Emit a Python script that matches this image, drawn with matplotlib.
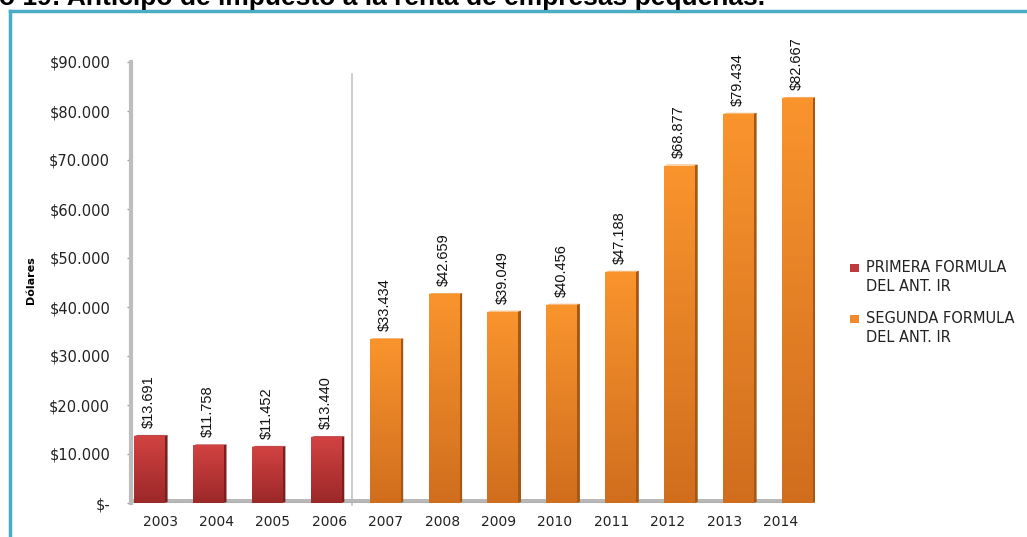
import matplotlib.pyplot as plt
import numpy as np
from matplotlib.colors import LinearSegmentedColormap
from matplotlib.lines import Line2D
from matplotlib.patches import Polygon, Rectangle
from matplotlib.transforms import ScaledTranslation

years = ["2003", "2004", "2005", "2006", "2007", "2008",
         "2009", "2010", "2011", "2012", "2013", "2014"]
primera = [13691, 11758, 11452, 13440]
segunda = [33434, 42659, 39049, 40456, 47188, 68877, 79434, 82667]
series_names = ["PRIMERA FORMULA\nDEL ANT. IR", "SEGUNDA FORMULA\nDEL ANT. IR"]
y_ticks = [0, 10000, 20000, 30000, 40000, 50000, 60000, 70000, 80000, 90000]

W, H = 1027, 537
fig = plt.figure(figsize=(W / 100, H / 100), dpi=100)
ax = fig.add_axes([131 / W, (H - 503) / H, 684 / W, 441 / H])

# (front top, front bottom, side, top face, legend)
styles = [
    ("#D24242", "#9C2828", "#7A1E1E", "#B83434", "#C0393B"),
    ("#F9942D", "#D06E1E", "#A45816", "#F4A555", "#F08A2A"),
]

bar_w = 0.51
dx, dy = 0.06, 200  # depth of the side and top faces
label_shift = ScaledTranslation(0, 8 / 100, fig.dpi_scale_trans)


def fmt_money(v):
    return "${:,}".format(v).replace(",", ".")


def draw_bar(x, h, st):
    top_c, bot_c, side_c, cap_c, _ = st
    x0, x1 = x - bar_w / 2, x + bar_w / 2
    side = Polygon([(x1, 0), (x1 + dx, dy), (x1 + dx, h + dy), (x1, h)],
                   closed=True, color=side_c, lw=0, zorder=3)
    ax.add_patch(side)
    cap = Polygon([(x0, h), (x0 + dx, h + dy), (x1 + dx, h + dy), (x1, h)],
                  closed=True, color=cap_c, lw=0, zorder=3)
    ax.add_patch(cap)
    front = Rectangle((x0, 0), bar_w, h, facecolor="none", lw=0, zorder=4)
    ax.add_patch(front)
    cmap = LinearSegmentedColormap.from_list("g", [bot_c, top_c])
    grad = np.linspace(0, 1, 64).reshape(-1, 1)
    im = ax.imshow(grad, cmap=cmap, origin="lower", aspect="auto",
                   extent=[x0, x1, 0, h], zorder=4)
    im.set_clip_path(front)
    ax.text(x, h, fmt_money(h), rotation=90, ha="center", va="bottom",
            fontsize=10.5, family="Liberation Sans", color="#111111",
            zorder=6, transform=ax.transData + label_shift)


values = primera + segunda
for i, v in enumerate(values):
    st = styles[0] if i < len(primera) else styles[1]
    draw_bar(i, v, st)

# floor under the bars
ax.axhspan(0, 800, color="#B8B8B8", zorder=2, lw=0)
ax.axhline(0, color="#8C8C8C", lw=1.0, zorder=2)

# separator between the two formulas
ax.plot([3.45, 3.45], [87550, -500], color="#C8C8C8", lw=1.3,
        clip_on=False, zorder=1)

ax.set_xlim(-0.306, 11.306)
ax.set_ylim(0, 90000)

for s in ["top", "right", "bottom"]:
    ax.spines[s].set_visible(False)
ax.spines["left"].set_color("#BDBDBD")
ax.spines["left"].set_linewidth(3)

ax.set_yticks(y_ticks)
ax.set_yticklabels(["$-" if t == 0 else fmt_money(t) for t in y_ticks])
ax.tick_params(axis="y", length=3, width=1, color="#A0A0A0", pad=12,
               labelsize=10.5, labelcolor="#222222")
label_pos = [0.187 + 0.9576 * i for i in range(len(years))]
ax.set_xticks(label_pos)
ax.set_xticklabels(years)
ax.tick_params(axis="x", length=0, pad=9, labelsize=10, labelcolor="#222222")
for lab in ax.get_xticklabels() + ax.get_yticklabels():
    lab.set_family("DejaVu Sans")

fig.text(31 / W, 1 - 280 / H, "Dólares", rotation=90, ha="center",
         va="center", fontsize=8, fontweight="bold", family="DejaVu Sans")

# legend drawn by hand so the swatch sits on the first line
for k, (name, y_top) in enumerate(zip(series_names, [264, 315])):
    fig.patches.append(Rectangle((850 / W, 1 - (y_top + 8) / H), 9 / W, 8 / H,
                                 transform=fig.transFigure,
                                 facecolor=styles[k][4], lw=0))
    fig.text(866 / W, 1 - (y_top - 4) / H, name, ha="left", va="top",
             fontsize=10.5, family="DejaVu Sans", color="#222222",
             linespacing=1.3)

# teal frame around the chart
fig.add_artist(Line2D([9.5 / W, 9.5 / W], [0, 1 - 11 / H],
                      transform=fig.transFigure, color="#4BACC6", lw=2.5))
fig.add_artist(Line2D([9.5 / W, 1.0], [1 - 11 / H, 1 - 11 / H],
                      transform=fig.transFigure, color="#4BACC6", lw=2.5))

fig.text(-1 / W, 1 - 5 / H,
         "o 19: Anticipo de impuesto a la renta de empresas pequeñas.",
         ha="left", va="baseline", fontsize=19, fontweight="bold",
         family="Liberation Sans")

fig.savefig("out.png", dpi=100)
